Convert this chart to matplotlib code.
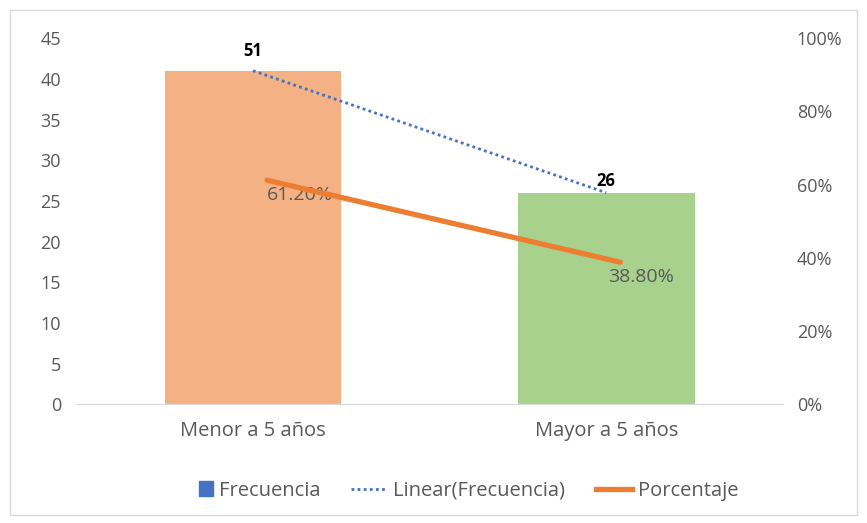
import matplotlib
matplotlib.use("Agg")
import matplotlib.pyplot as plt
from matplotlib.patches import Rectangle
from matplotlib.lines import Line2D
from matplotlib.legend_handler import HandlerPatch
from matplotlib.ticker import PercentFormatter
import numpy as np

# Data
categories = ["Menor a 5 años", "Mayor a 5 años"]
frecuencia = [41, 26]
frecuencia_labels = ["51", "26"]
porcentaje = [61.2, 38.8]
porcentaje_labels = ["61.20%", "38.80%"]

bar_colors = ["#F4B183", "#A9D18E"]
text_gray = "#595959"

plt.rcParams["font.family"] = ["Open Sans", "DejaVu Sans"]

fig = plt.figure(figsize=(8.67, 5.23), dpi=100)
ax = fig.add_axes([0.088, 0.227, 0.815, 0.700])
ax2 = ax.twinx()

x = np.arange(len(categories))
ax.bar(x, frecuencia, width=0.5, color=bar_colors, zorder=2)

# linear trend of the frequencies
coef = np.polyfit(x, frecuencia, 1)
ax.plot(x, np.polyval(coef, x), linestyle=(0, (1, 1.2)), color="#4472C4",
        linewidth=2, zorder=3)

for xi, v, lab in zip(x, frecuencia, frecuencia_labels):
    ax.annotate(lab, (xi, v), xytext=(0, 8 if xi == 0 else 2),
                textcoords="offset points", ha="center", va="bottom",
                fontsize=12, fontweight="bold", color="black", zorder=5)

xl = x + 0.04
ax2.plot(xl, porcentaje, color="#ED7D31", linewidth=3.8,
         solid_capstyle="round", zorder=4)
for xi, v, lab, dx in zip(xl, porcentaje, porcentaje_labels, [0, -9]):
    ax2.annotate(lab, (xi, v), xytext=(dx, -4), textcoords="offset points",
                 ha="left", va="top", fontsize=14, color=text_gray)

ax.set_xlim(-0.5, 1.5)
ax.set_ylim(0, 45)
ax.set_yticks(range(0, 46, 5))
ax2.set_ylim(0, 100)
ax2.set_yticks(range(0, 101, 20))
ax2.yaxis.set_major_formatter(PercentFormatter(100, decimals=0))

ax.set_xticks(x)
ax.set_xticklabels(categories)

for a in (ax, ax2):
    for s in ("top", "left", "right"):
        a.spines[s].set_visible(False)
    a.spines["bottom"].set_color("#D9D9D9")
    a.tick_params(length=0, labelsize=13, colors=text_gray)
ax.tick_params(axis="y", pad=11)
ax.tick_params(axis="x", pad=12, labelsize=14.5)
ax2.tick_params(axis="y", pad=10)
ax2.set_zorder(ax.get_zorder() + 1)
ax2.patch.set_visible(False)


def square_patch(legend, orig_handle, xdescent, ydescent, width, height, fontsize):
    side = height * 1.0
    return Rectangle((width - side - xdescent, -ydescent), side, side)


handles = [
    Rectangle((0, 0), 1, 1, color="#4472C4"),
    Line2D([], [], linestyle=(0, (1, 1.2)), color="#4472C4", linewidth=2),
    Line2D([], [], color="#ED7D31", linewidth=3.8),
]
fig.legend(handles, ["Frecuencia", "Linear(Frecuencia)", "Porcentaje"],
           loc="center", bbox_to_anchor=(0.528, 0.062), ncol=3, frameon=False,
           fontsize=14.5, labelcolor=text_gray, handlelength=1.8,
           handletextpad=0.3, columnspacing=1.5,
           handler_map={Rectangle: HandlerPatch(patch_func=square_patch)})

fig.patches.append(Rectangle((0.012, 0.015), 0.976, 0.965, transform=fig.transFigure,
                             fill=False, edgecolor="#D9D9D9", linewidth=1))

fig.savefig("out.png", dpi=100)
